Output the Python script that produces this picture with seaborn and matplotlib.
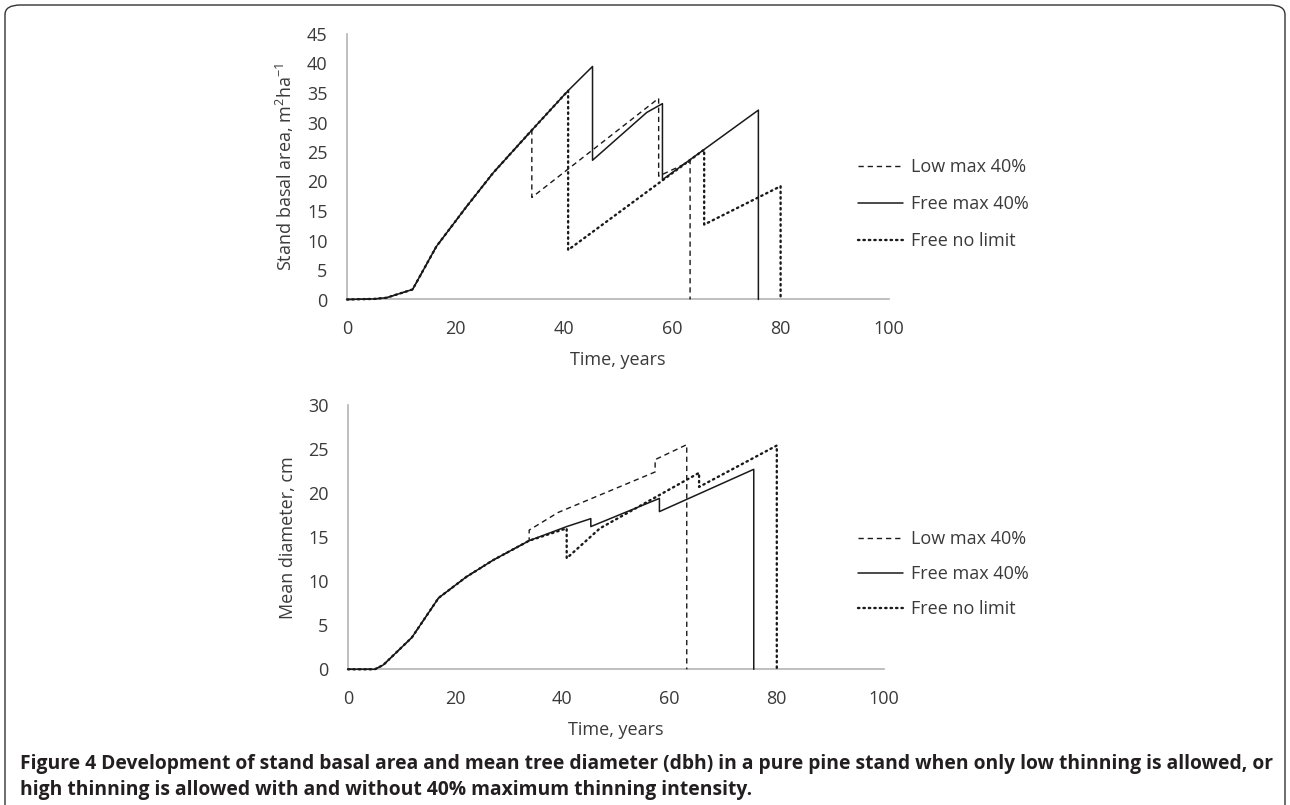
import matplotlib
matplotlib.use("Agg")
import matplotlib.pyplot as plt
import seaborn as sns
import pandas as pd
from matplotlib import font_manager
from matplotlib.patches import FancyBboxPatch

# ---------------- data ----------------
series_names = ["Low max 40%", "Free max 40%", "Free no limit"]

# Stand basal area (m2/ha)
ba_low_years = [0, 5, 7.3, 12.1, 16.5, 22.1, 27.0, 34.1, 34.1, 57.5, 57.5, 63.3, 63.3]
ba_low_vals = [0, 0.1, 0.3, 1.7, 9.0, 15.8, 21.5, 28.7, 17.3, 34.1, 20.9, 23.4, 0]

ba_free40_years = [0, 5, 7.3, 12.1, 16.5, 22.1, 27.0, 34.1, 40.8, 45.3, 45.3, 55.3, 58.2, 58.2, 75.9, 75.9]
ba_free40_vals = [0, 0.1, 0.3, 1.7, 9.0, 15.8, 21.5, 28.7, 35.4, 39.5, 23.6, 31.7, 33.2, 20.3, 32.1, 0]

ba_nolim_years = [0, 5, 7.3, 12.1, 16.5, 22.1, 27.0, 34.1, 40.8, 40.8, 65.9, 65.9, 80, 80]
ba_nolim_vals = [0, 0.1, 0.3, 1.7, 9.0, 15.8, 21.5, 28.7, 35.4, 8.4, 25.4, 12.7, 19.2, 0]

# Mean diameter (cm)
d_low_years = [0, 5, 6.6, 11.9, 16.9, 22.1, 27.1, 33.8, 33.8, 39.2, 57.3, 57.3, 63.2, 63.2]
d_low_vals = [0, 0, 0.5, 3.6, 8.1, 10.5, 12.4, 14.6, 15.8, 17.8, 22.4, 23.8, 25.5, 0]

d_free40_years = [0, 5, 6.6, 11.9, 16.9, 22.1, 27.1, 33.8, 40.8, 45.3, 45.3, 58.1, 58.1, 75.7, 75.7]
d_free40_vals = [0, 0, 0.5, 3.6, 8.1, 10.5, 12.4, 14.6, 16.2, 17.1, 16.2, 19.4, 17.9, 22.7, 0]

d_nolim_years = [0, 5, 6.6, 11.9, 16.9, 22.1, 27.1, 33.8, 40.8, 40.8, 47.0, 65.5, 65.5, 80, 80]
d_nolim_vals = [0, 0, 0.5, 3.6, 8.1, 10.5, 12.4, 14.6, 16.0, 12.6, 16.0, 22.3, 20.7, 25.4, 0]

x_ticks = [0, 20, 40, 60, 80, 100]
ba_ticks = [0, 5, 10, 15, 20, 25, 30, 35, 40, 45]
d_ticks = [0, 5, 10, 15, 20, 25, 30]

x_label = "Time, years"
ba_label = "Stand basal area, m$^{2}$ha$^{-1}$"
d_label = "Mean diameter, cm"
caption_line1 = "Figure 4 Development of stand basal area and mean tree diameter (dbh) in a pure pine stand when only low thinning is allowed, or"
caption_line2 = "high thinning is allowed with and without 40% maximum thinning intensity."

# ---------------- style ----------------
sns.set_theme(style="white")
avail = {f.name for f in font_manager.fontManager.ttflist}
base_font = "Open Sans" if "Open Sans" in avail else "DejaVu Sans"
cap_font = "Open Sans" if "Open Sans" in avail else "DejaVu Sans"
plt.rcParams["font.family"] = [base_font, "DejaVu Sans"]
plt.rcParams["mathtext.default"] = "regular"

FS = 13
TXT = "#3a3a3a"

W, H = 1290, 805
fig = plt.figure(figsize=(W / 100, H / 100), dpi=100)
fig.patch.set_facecolor("white")

def fx(px):
    return px / W

def fy(py):
    return 1 - py / H

ax1 = fig.add_axes([fx(347), fy(299.5), fx(889) - fx(347), fy(34) - fy(299.5)])
ax2 = fig.add_axes([fx(348), fy(669.3), fx(884) - fx(348), fy(405) - fy(669.3)])

styles = {
    "Low max 40%": dict(linestyle=(0, (3.8, 2.8)), linewidth=1.0),
    "Free max 40%": dict(linestyle="-", linewidth=1.1),
    "Free no limit": dict(linestyle=(0, (0.6, 1.7)), linewidth=1.7, dash_capstyle="round"),
}

def draw(ax, data, yticks, ylabel, ymax):
    for name, (xs, ys) in zip(series_names, data):
        df = pd.DataFrame({"x": xs, "y": ys})
        sns.lineplot(data=df, x="x", y="y", ax=ax, sort=False, estimator=None,
                     color="#1a1a1a", label=name, zorder=3, clip_on=False, **styles[name])
    ax.set_xlim(0, 100)
    ax.set_ylim(0, ymax)
    ax.set_xticks(x_ticks)
    ax.set_yticks(yticks)
    ax.tick_params(axis="both", length=0, labelsize=FS, colors=TXT)
    ax.tick_params(axis="x", pad=15)
    ax.tick_params(axis="y", pad=14)
    for s in ["top", "right"]:
        ax.spines[s].set_visible(False)
    for s in ["left", "bottom"]:
        ax.spines[s].set_color("#b4b4b4")
        ax.spines[s].set_linewidth(1.2)
        ax.spines[s].set_zorder(2)
    ax.set_xlabel(x_label, fontsize=FS, color=TXT, labelpad=9)
    ax.set_ylabel(ylabel, fontsize=FS, color=TXT, labelpad=8)
    ax.set_facecolor("none")
    ax.get_legend().remove()

draw(ax1, [(ba_low_years, ba_low_vals), (ba_free40_years, ba_free40_vals),
           (ba_nolim_years, ba_nolim_vals)], ba_ticks, ba_label, 45)
draw(ax2, [(d_low_years, d_low_vals), (d_free40_years, d_free40_vals),
           (d_nolim_years, d_nolim_vals)], d_ticks, d_label, 30)

def add_legend(ax, top_px, spacing):
    h, l = ax.get_legend_handles_labels()
    leg = fig.legend(h, l, loc="upper left", bbox_to_anchor=(fx(858), fy(top_px)),
                     frameon=False, fontsize=FS, handlelength=2.5, handletextpad=0.45,
                     labelspacing=spacing, borderaxespad=0, borderpad=0)
    for t in leg.get_texts():
        t.set_color(TXT)

add_legend(ax1, 158, 1.05)
add_legend(ax2, 530, 0.95)

# caption (bold), sized so line 1 spans the reference width
t1 = fig.text(fx(20), fy(764), caption_line1, fontsize=13, fontweight="bold",
              family=[cap_font, "DejaVu Sans"], va="center", ha="left", color="#231f20")
fig.canvas.draw()
w = t1.get_window_extent().width
cap_fs = 13 * 1243 / w
t1.set_fontsize(cap_fs)
fig.text(fx(20), fy(790), caption_line2, fontsize=cap_fs, fontweight="bold",
         family=[cap_font, "DejaVu Sans"], va="center", ha="left", color="#231f20")

# frame
frame = FancyBboxPatch((fx(5), fy(830)), fx(1285) - fx(5), fy(5) - fy(830),
                       boxstyle="round,pad=0,rounding_size=0.012",
                       transform=fig.transFigure, fill=False, edgecolor="#333333",
                       linewidth=1.0, clip_on=False)
fig.patches.append(frame)

fig.savefig("out.png", dpi=100, facecolor="white")
